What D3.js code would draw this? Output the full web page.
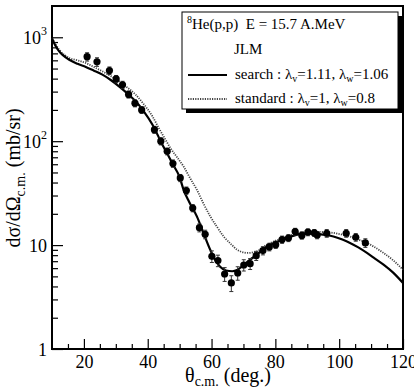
<!DOCTYPE html>
<html>
<head>
<meta charset="utf-8">
<title>8He(p,p) elastic scattering</title>
<script src="https://d3js.org/d3.v7.min.js"></script>
<style>
	body { margin: 0; background: #fff; }
	svg text {
		font-family: "Liberation Serif", "DejaVu Serif", serif;
		fill: #000;
	}
	.tick line { stroke: #000; stroke-width: 1.2; }
	.tick text { font-size: 18px; }
</style>
</head>
<body>
<script>

// --------------------------- data ---------------------------
// measured points : theta c.m. (deg), dsigma/dOmega (mb/sr), error
var dataAngle = [21.0, 24.1, 28.0, 30.1, 32.1, 34.0, 36.0, 38.1, 42.1, 44.1, 46.1, 47.9,
	50.2, 52.1, 54.1, 56.2, 58.0, 60.1, 62.0, 64.1, 66.2, 68.2, 70.1, 72.1, 74.0, 76.1,
	78.1, 80.1, 82.1, 84.1, 86.2, 88.3, 90.2, 92.2, 93.1, 96.1, 102.2, 105.2, 108.2];
var dataXsec = [650, 580, 478, 397, 349, 282, 232, 200, 129, 100, 79.8, 61,
	44.3, 33.5, 22.7, 14.7, 12.7, 7.8, 7.1, 5.27, 4.32, 5.39, 6.43, 6.62, 7.91, 8.85,
	9.6, 10.1, 11.3, 11.7, 13.5, 12.4, 13.3, 13.1, 12.5, 13.0, 13.0, 11.9, 10.5];
var dataErr = [60, 55, 40, 32, 28, 22, 18, 15, 10, 8, 6, 5,
	3.5, 2.7, 1.8, 1.3, 1.2, 1.0, 0.9, 0.8, 0.75, 0.8, 0.8, 0.8, 0.8, 0.8,
	0.8, 0.8, 0.9, 0.9, 1.0, 1.0, 1.0, 1.0, 1.0, 1.1, 1.1, 1.0, 1.0];

// JLM search : lambda_v=1.11, lambda_w=1.06
var searchAngle = [10, 11, 12.25, 13.5, 15.4, 18, 20.6, 23, 25.8, 28.3, 31, 33.5, 36.2, 38.7,
	41.5, 44.6, 46.1, 47.6, 50, 51.25, 53, 55.4, 57.5, 59.6, 61, 62.7, 64.5, 66.5, 68, 70,
	72, 74, 77.4, 80, 82.6, 85, 87.8, 90, 93, 96, 98.2, 101, 103.4, 106, 108.7, 111,
	113.9, 117, 120];
var searchXsec = [975, 840, 731, 670, 608, 555, 518, 480, 437, 390, 337, 290, 242, 195,
	144, 92.5, 76, 62, 45, 34, 26, 18.9, 13, 9.0, 7.3, 6.2, 5.7, 5.6, 5.75, 6.4,
	7.2, 8.0, 9.7, 10.6, 11.3, 12.1, 12.8, 13.0, 12.8, 12.5, 12.1, 11.3, 10.5, 9.5, 8.4, 7.5,
	6.48, 5.4, 4.32];

// JLM standard : lambda_v=1, lambda_w=0.8
var standardAngle = [10, 12.25, 15.4, 18, 20.6, 23, 25.8, 28.3, 31, 33.5, 36.2, 38.7, 41.5,
	43.5, 45.6, 47.1, 49.2, 51.25, 53.3, 55.4, 57.5, 59.6, 61.7, 63.8, 66, 68, 70, 71.1,
	72.5, 74.2, 77.4, 80, 82.6, 85, 87.8, 90, 93, 96, 98.2, 101, 103.4, 106, 108.7, 111,
	113.9, 117, 120];
var standardXsec = [980, 760, 632, 600, 566, 520, 470, 425, 377, 330, 281, 228, 173,
	133, 103, 86, 70, 57, 44, 34.1, 25, 18.9, 15, 12.1, 10.3, 9.03, 8.5, 8.4,
	8.45, 8.7, 10.1, 11, 11.7, 12.5, 13.1, 13.3, 13.4, 13.3, 13.1, 12.6, 12.1, 11.3, 10.5, 9.6,
	8.4, 7.1, 5.8];

var xTickValues = [20, 40, 60, 80, 100, 120];
var xMinorTicks = d3.range(15, 120, 5).filter(function (d){ return d % 20 != 0; });
var yTickValues = [1, 10, 100, 1000];
var yMinorTicks = [];
[1, 10, 100, 1000].forEach(function (dec){
	for( var k = 2; k <= 9; k++ ){ if( dec*k < 2000 ) yMinorTicks.push(dec*k); }
});

// --------------------------- layout ---------------------------
var W = 414, H = 388;
var plotL = 52, plotR = 403, plotT = 6, plotB = 349;

var svgCanvas = d3.select("body").append("svg")
	.attr("width", W)
	.attr("height", H);

var xScale = d3.scaleLinear().domain([10, 120]).range([plotL, plotR]);
var yScale = d3.scaleLog().domain([1, 2000]).range([plotB, plotT]);

// minor ticks first
svgCanvas.append("g").attr("transform", "translate(0," + plotB + ")")
	.call(d3.axisBottom(xScale).tickValues(xMinorTicks).tickSize(-5).tickFormat(""))
	.call(function (g){ g.select(".domain").remove(); });
svgCanvas.append("g").attr("transform", "translate(" + plotL + ",0)")
	.call(d3.axisLeft(yScale).tickValues(yMinorTicks).tickSize(-6).tickFormat(""))
	.call(function (g){ g.select(".domain").remove(); });

// major ticks + labels
svgCanvas.append("g").attr("transform", "translate(0," + plotB + ")")
	.call(d3.axisBottom(xScale).tickValues(xTickValues).tickSize(-10).tickPadding(6).tickFormat(d3.format("d")))
	.call(function (g){ g.select(".domain").remove(); });

var yAx = svgCanvas.append("g").attr("transform", "translate(" + plotL + ",0)")
	.call(d3.axisLeft(yScale).tickValues(yTickValues).tickSize(-11).tickPadding(5).tickFormat(""))
	.call(function (g){ g.select(".domain").remove(); });
yAx.selectAll(".tick text").each(function (d){
	var t = d3.select(this).attr("dy", "0.36em");
	if( d >= 100 ){
		t.append("tspan").text("10");
		t.append("tspan").attr("font-size", "12px").attr("dy", "-0.75em").text(Math.round(Math.log10(d)));
	} else {
		t.text(d);
	}
});

// frame
svgCanvas.append("rect")
	.attr("x", plotL).attr("y", plotT)
	.attr("width", plotR - plotL).attr("height", plotB - plotT)
	.style("fill", "none").style("stroke", "#000").style("stroke-width", 2);

// --------------------------- curves ---------------------------
var line = d3.line()
	.x(function (d){ return xScale(d[0]); })
	.y(function (d){ return yScale(d[1]); })
	.curve(d3.curveMonotoneX);

svgCanvas.append("path")
	.datum(standardAngle.map(function (a, i){ return [a, standardXsec[i]]; }))
	.attr("d", line)
	.style("fill", "none").style("stroke", "#444").style("stroke-width", 1.8)
	.style("stroke-dasharray", "1.2,1.2");

svgCanvas.append("path")
	.datum(searchAngle.map(function (a, i){ return [a, searchXsec[i]]; }))
	.attr("d", line)
	.style("fill", "none").style("stroke", "#000").style("stroke-width", 2.2);

// --------------------------- data points ---------------------------
var points = dataAngle.map(function (a, i){ return { x: a, y: dataXsec[i], e: dataErr[i] }; });

var errG = svgCanvas.append("g").style("stroke", "#333").style("stroke-width", 1);
errG.selectAll("path").data(points).enter().append("path")
	.attr("d", function (d){
		var cx = xScale(d.x), y0 = yScale(d.y - d.e), y1 = yScale(d.y + d.e);
		return "M" + cx + "," + y0 + "V" + y1 +
			"M" + (cx - 2) + "," + y0 + "H" + (cx + 2) +
			"M" + (cx - 2) + "," + y1 + "H" + (cx + 2);
	})
	.style("fill", "none");

svgCanvas.append("g").selectAll("circle").data(points).enter().append("circle")
	.attr("cx", function (d){ return xScale(d.x); })
	.attr("cy", function (d){ return yScale(d.y); })
	.attr("r", 3.6)
	.style("fill", "#000");

// --------------------------- axis titles ---------------------------
var xt = svgCanvas.append("text")
	.attr("x", 228).attr("y", 382)
	.attr("text-anchor", "middle")
	.style("font-size", "20px");
xt.append("tspan").text("θ");
xt.append("tspan").attr("font-size", "14px").attr("dy", "4").text("c.m.");
xt.append("tspan").attr("dy", "-4").text(" (deg.)");

var yt = svgCanvas.append("text")
	.attr("transform", "rotate(-90)")
	.attr("x", -178).attr("y", 20)
	.attr("text-anchor", "middle")
	.style("font-size", "20px");
yt.append("tspan").text("dσ/dΩ");
yt.append("tspan").attr("font-size", "14px").attr("dy", "5").text("c.m.");
yt.append("tspan").attr("dy", "-5").text(" (mb/sr)");

// --------------------------- legend ---------------------------
var lg = svgCanvas.append("g");
lg.append("rect").attr("x", 186).attr("y", 16).attr("width", 216).attr("height", 97).style("fill", "#000");
lg.append("rect").attr("x", 182).attr("y", 12).attr("width", 216).attr("height", 97)
	.style("fill", "#fff").style("stroke", "#000").style("stroke-width", 1);

var t1 = lg.append("text").attr("x", 187).attr("y", 29).style("font-size", "15px").style("white-space", "pre");
t1.append("tspan").attr("font-size", "10px").attr("dy", "-6").text("8");
t1.append("tspan").attr("dy", "6").text("He(p,p)  E = 15.7 A.MeV");

lg.append("text").attr("x", 234).attr("y", 54).style("font-size", "15px").text("JLM");

lg.append("line").attr("x1", 188).attr("x2", 227).attr("y1", 75).attr("y2", 75)
	.style("stroke", "#000").style("stroke-width", 2.2);
var t3 = lg.append("text").attr("x", 235).attr("y", 79).style("font-size", "15px");
t3.append("tspan").text("search : λ");
t3.append("tspan").attr("font-size", "10px").attr("dy", "3").text("v");
t3.append("tspan").attr("dy", "-3").text("=1.11, λ");
t3.append("tspan").attr("font-size", "10px").attr("dy", "3").text("w");
t3.append("tspan").attr("dy", "-3").text("=1.06");

lg.append("line").attr("x1", 188).attr("x2", 227).attr("y1", 99).attr("y2", 99)
	.style("stroke", "#444").style("stroke-width", 1.8).style("stroke-dasharray", "1.2,1.2");
var t4 = lg.append("text").attr("x", 235).attr("y", 103).style("font-size", "15px");
t4.append("tspan").text("standard : λ");
t4.append("tspan").attr("font-size", "10px").attr("dy", "3").text("v");
t4.append("tspan").attr("dy", "-3").text("=1, λ");
t4.append("tspan").attr("font-size", "10px").attr("dy", "3").text("w");
t4.append("tspan").attr("dy", "-3").text("=0.8");

</script>
</body>
</html>
